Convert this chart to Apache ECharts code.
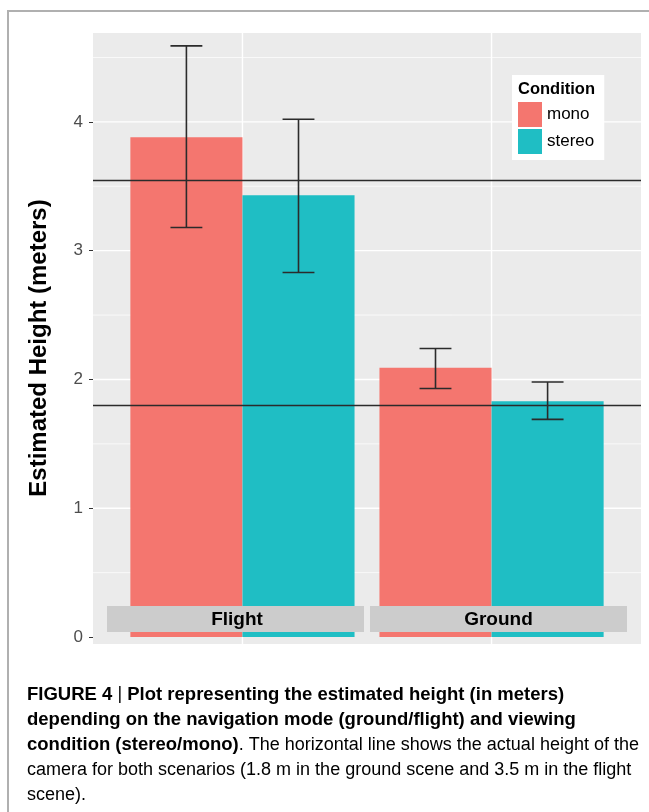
<!DOCTYPE html>
<html><head><meta charset="utf-8">
<script src="https://cdn.jsdelivr.net/npm/echarts@6/dist/echarts.min.js"></script>
<style>html,body{margin:0;padding:0;background:#fff}#c{width:649px;height:812px}</style>
</head><body><div id="c"></div>
<script>
// ---- data ----
const navModes = ['Flight', 'Ground'];
const conditions = ['mono', 'stereo'];
const meanMono = [3.88, 2.09];
const meanStereo = [3.43, 1.83];
const lowMono = [3.18, 1.93];
const highMono = [4.59, 2.24];
const lowStereo = [2.83, 1.69];
const highStereo = [4.02, 1.98];
const actualHeights = [3.55, 1.80];
const yTicks = [0, 1, 2, 3, 4];
const yMinorTicks = [0.5, 1.5, 2.5, 3.5, 4.5];
const yTitle = 'Estimated Height (meters)';
const legendTitle = 'Condition';

// ---- styles ----
const colMono = '#F4766F';
const colStereo = '#1FBEC4';
const dodgeHalf = 0.45;

function barRender(dodge) {
  return function (params, api) {
    const x = api.value(0), v = api.value(1);
    const x0 = x + (dodge === 0 ? -dodgeHalf : 0);
    const p0 = api.coord([x0, 0]);
    const p1 = api.coord([x0 + dodgeHalf, v]);
    return {
      type: 'rect',
      shape: { x: p0[0], y: p1[1], width: p1[0] - p0[0], height: p0[1] - p1[1] },
      style: { fill: api.visual('color') }
    };
  };
}
function errRender(dodge) {
  return function (params, api) {
    const xc = api.value(0) + (dodge === 0 ? -dodgeHalf / 2 : dodgeHalf / 2);
    const cw = 0.064;
    const lo = api.coord([xc, api.value(1)]);
    const hi = api.coord([xc, api.value(2)]);
    const l1 = api.coord([xc - cw, api.value(1)]);
    const r1 = api.coord([xc + cw, api.value(1)]);
    const l2 = api.coord([xc - cw, api.value(2)]);
    const r2 = api.coord([xc + cw, api.value(2)]);
    const st = { stroke: '#2b2b2b', lineWidth: 1.6 };
    return {
      type: 'group',
      children: [
        { type: 'line', shape: { x1: lo[0], y1: lo[1], x2: hi[0], y2: hi[1] }, style: st },
        { type: 'line', shape: { x1: l1[0], y1: l1[1], x2: r1[0], y2: r1[1] }, style: st },
        { type: 'line', shape: { x1: l2[0], y1: l2[1], x2: r2[0], y2: r2[1] }, style: st }
      ]
    };
  };
}
function hGridRender(width) {
  return function (params, api) {
    const cs = params.coordSys;
    const p = api.coord([1, api.value(0)]);
    return { type: 'line', shape: { x1: cs.x, y1: p[1], x2: cs.x + cs.width, y2: p[1] }, style: { stroke: '#fff', lineWidth: width } };
  };
}
function vGridRender(width) {
  return function (params, api) {
    const cs = params.coordSys;
    const p = api.coord([api.value(0), 1]);
    return { type: 'line', shape: { x1: p[0], y1: cs.y, x2: p[0], y2: cs.y + cs.height }, style: { stroke: '#fff', lineWidth: width } };
  };
}

const monoData = navModes.map((n, i) => [i + 1, meanMono[i]]);
const stereoData = navModes.map((n, i) => [i + 1, meanStereo[i]]);
const errMonoData = navModes.map((n, i) => [i + 1, lowMono[i], highMono[i]]);
const errStereoData = navModes.map((n, i) => [i + 1, lowStereo[i], highStereo[i]]);

const chart = echarts.init(document.getElementById('c'), null, { renderer: 'canvas' });

const capB = { fontFamily: 'Liberation Sans', fontSize: 18.5, lineHeight: 25, fontWeight: 'bold', color: '#1a1a1a' };
const capR = { fontFamily: 'Liberation Sans', fontSize: 18, lineHeight: 25, fontWeight: 'normal', color: '#333' };
const capS = { fontFamily: 'Liberation Sans', fontSize: 18, lineHeight: 25, fontWeight: 'normal', color: '#888' };
const captionLines = [
  '{b|FIGURE 4 }{s||}{b| Plot representing the estimated height (in meters)}',
  '{b|depending on the navigation mode (ground/flight) and viewing}',
  '{b|condition (stereo/mono)}{r|. The horizontal line shows the actual height of the}',
  '{r|camera for both scenarios (1.8 m in the ground scene and 3.5 m in the flight}',
  '{r|scene).}'
];

const option = {
  animation: false,
  backgroundColor: '#fff',
  grid: { left: 93, top: 33, width: 548, height: 611, show: true, backgroundColor: '#EBEBEB', borderWidth: 0 },
  xAxis: {
    type: 'value', min: 0.4, max: 2.6,
    axisLine: { show: false }, axisTick: { show: false }, axisLabel: { show: false }, splitLine: { show: false }
  },
  yAxis: {
    type: 'value', min: -0.054, max: 4.69,
    axisLine: { show: false },
    axisTick: { show: true, length: 4, customValues: yTicks, lineStyle: { color: '#333', width: 1 } },
    axisLabel: { customValues: yTicks, color: '#4D4D4D', fontSize: 17, fontFamily: 'Liberation Sans', margin: 10 },
    splitLine: { show: false }
  },
  title: {
    text: legendTitle, left: 518, top: 81, padding: 0,
    textStyle: { fontSize: 16.5, fontWeight: 'bold', color: '#000', fontFamily: 'Liberation Sans' }
  },
  legend: {
    data: [{ name: 'mono', icon: 'rect' }, { name: 'stereo', icon: 'rect' }],
    orient: 'vertical', left: 512, top: 75, padding: [27, 10, 6, 6],
    itemWidth: 24, itemHeight: 25, itemGap: 2, backgroundColor: '#fff', selectedMode: false,
    textStyle: { fontSize: 17, color: '#000', fontFamily: 'Liberation Sans' }
  },
  series: [
    { type: 'custom', name: 'gmaj', data: yTicks.filter(v => v > 0).map(v => [v]), renderItem: hGridRender(1.4), z: 1, silent: true },
    { type: 'custom', name: 'gmin', data: yMinorTicks.map(v => [v]), renderItem: hGridRender(0.7), z: 1, silent: true },
    { type: 'custom', name: 'gx', data: navModes.map((n, i) => [i + 1]), renderItem: vGridRender(1.4), z: 1, silent: true },
    { type: 'custom', name: 'mono', data: monoData, renderItem: barRender(0), itemStyle: { color: colMono }, z: 2, silent: true },
    { type: 'custom', name: 'stereo', data: stereoData, renderItem: barRender(1), itemStyle: { color: colStereo }, z: 2, silent: true },
    {
      type: 'line', name: 'actual', data: [], z: 3, silent: true,
      markLine: {
        silent: true, symbol: ['none', 'none'], label: { show: false }, animation: false,
        data: actualHeights.map(v => ({ yAxis: v })),
        lineStyle: { color: '#2b2b2b', width: 1.3, type: 'solid' }
      }
    },
    { type: 'custom', name: 'err-mono', data: errMonoData, renderItem: errRender(0), z: 4, silent: true },
    { type: 'custom', name: 'err-stereo', data: errStereoData, renderItem: errRender(1), z: 4, silent: true }
  ],
  graphic: [
    { type: 'polyline', z: 100, shape: { points: [[8, 812], [8, 11], [649, 11]] }, style: { stroke: '#B0B0B0', lineWidth: 2, fill: null } },
    { type: 'text', z: 100, x: 39, y: 348, rotation: Math.PI / 2, style: { text: yTitle, align: 'center', verticalAlign: 'middle', fontSize: 24, fontWeight: 'bold', fill: '#000', fontFamily: 'Liberation Sans' } },
    { type: 'rect', z: 100, shape: { x: 107, y: 606, width: 257, height: 26 }, style: { fill: '#CCCCCC' } },
    { type: 'rect', z: 100, shape: { x: 370, y: 606, width: 257, height: 26 }, style: { fill: '#CCCCCC' } },
    { type: 'text', z: 101, x: 237, y: 620, style: { text: navModes[0], align: 'center', verticalAlign: 'middle', fontSize: 19, fontWeight: 'bold', fill: '#000', fontFamily: 'Liberation Sans' } },
    { type: 'text', z: 101, x: 498.5, y: 620, style: { text: navModes[1], align: 'center', verticalAlign: 'middle', fontSize: 19, fontWeight: 'bold', fill: '#000', fontFamily: 'Liberation Sans' } }
  ].concat(captionLines.map((t, i) => ({
    type: 'text', z: 100, left: 27, top: 685 + i * 25.2,
    style: { text: t, rich: { b: capB, r: capR, s: capS } }
  })))
};
chart.setOption(option);
</script>
</body></html>
